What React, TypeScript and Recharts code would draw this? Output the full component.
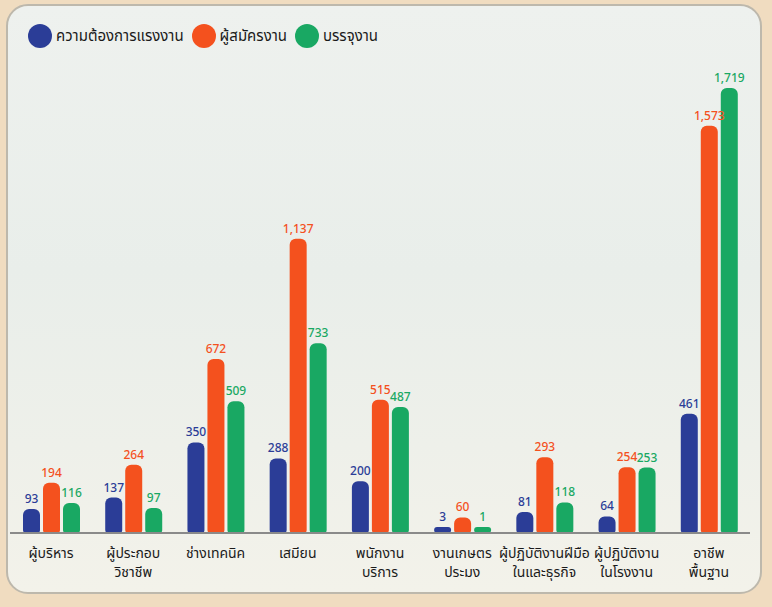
import { BarChart, Bar, XAxis, YAxis, LabelList } from 'recharts';

const categories = [
    'ผู้บริหาร',
    'ผู้ประกอบ\nวิชาชีพ',
    'ช่างเทคนิค',
    'เสมียน',
    'พนักงาน\nบริการ',
    'งานเกษตร\nประมง',
    'ผู้ปฏิบัติงานฝีมือ\nในและธุรกิจ',
    'ผู้ปฏิบัติงาน\nในโรงงาน',
    'อาชีพ\nพื้นฐาน',
];
const demand = [93, 137, 350, 288, 200, 3, 81, 64, 461];
const applicants = [194, 264, 672, 1137, 515, 60, 293, 254, 1573];
const placed = [116, 97, 509, 733, 487, 1, 118, 253, 1719];

const seriesNames = ['ความต้องการแรงงาน', 'ผู้สมัครงาน', 'บรรจุงาน'];
const COLORS = ['#2B3D97', '#F4511E', '#19A863'];
const FONT = '"Noto Sans", "Noto Sans Thai", Roboto, sans-serif';

const data = categories.map((name, i) => ({
    name,
    demand: demand[i],
    applicants: applicants[i],
    placed: placed[i],
}));

const fmt = (v: any) => Number(v).toLocaleString('en-US');

const CategoryTick = (props: any) => {
    const { x, y, payload } = props;
    const lines = String(payload.value).split('\n');
    return (
        <text x={x} y={y} textAnchor="middle" fontSize={14} fill="#1a1a1a" fontFamily={FONT}>
            {lines.map((l, i) => (
                <tspan key={i} x={x} dy={i === 0 ? 17 : 19}>
                    {l}
                </tspan>
            ))}
        </text>
    );
};

const App = () => {
    const keys = ['demand', 'applicants', 'placed'];
    return (
        <div
            style={{
                position: 'absolute',
                left: 0,
                top: 0,
                width: 772,
                height: 607,
                background: '#f0dcc0',
                fontFamily: FONT,
            }}
        >
            <div
                style={{
                    position: 'absolute',
                    left: 6,
                    top: 4,
                    width: 756,
                    height: 590,
                    borderRadius: 22,
                    border: '2px solid #bdb8ac',
                    background: 'linear-gradient(180deg, #eef1ee 0%, #e9eeea 45%, #eef0ea 75%, #f3f2ea 100%)',
                    boxSizing: 'border-box',
                }}
            />
            <div
                style={{
                    position: 'absolute',
                    left: 28,
                    top: 24,
                    display: 'flex',
                    alignItems: 'center',
                    fontSize: 15,
                    color: '#1a1a1a',
                }}
            >
                {seriesNames.map((n, i) => (
                    <div key={n} style={{ display: 'flex', alignItems: 'center', marginRight: 8 }}>
                        <span
                            style={{
                                display: 'inline-block',
                                width: 24,
                                height: 24,
                                borderRadius: 12,
                                background: COLORS[i],
                                marginRight: 4,
                            }}
                        />
                        {n}
                    </div>
                ))}
            </div>
            <div style={{ position: 'absolute', left: 0, top: 0 }}>
                <BarChart
                    width={772}
                    height={607}
                    data={data}
                    margin={{ top: 88, right: 22, left: 10, bottom: 0 }}
                    barSize={17}
                    barGap={3}
                >
                    <XAxis
                        dataKey="name"
                        interval={0}
                        height={74}
                        tickLine={false}
                        stroke="#8a8a8a"
                        strokeWidth={2}
                        tick={<CategoryTick />}
                    />
                    <YAxis hide domain={[0, 1719]} />
                    {keys.map((k, i) => (
                        <Bar
                            key={k}
                            dataKey={k}
                            fill={COLORS[i]}
                            radius={[6, 6, 3, 3]}
                            minPointSize={6}
                            isAnimationActive={false}
                        >
                            <LabelList
                                dataKey={k}
                                position="top"
                                offset={6}
                                fill={COLORS[i]}
                                fontSize={12}
                                fontWeight={500}
                                fontFamily={FONT}
                                formatter={fmt}
                            />
                        </Bar>
                    ))}
                </BarChart>
            </div>
        </div>
    );
};

export default App;
